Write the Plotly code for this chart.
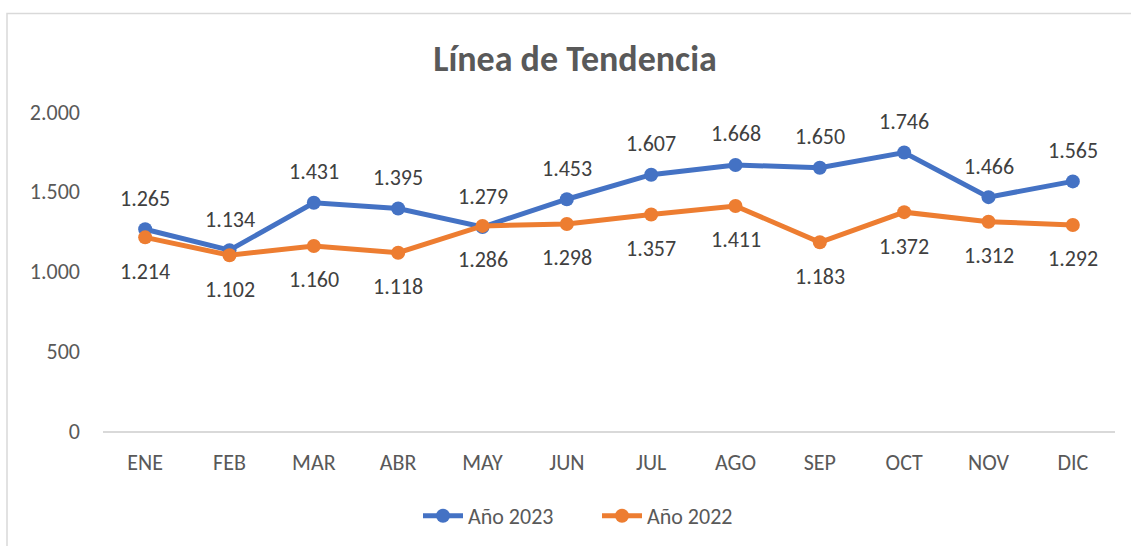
import plotly.graph_objects as go

months = ["ENE", "FEB", "MAR", "ABR", "MAY", "JUN", "JUL", "AGO", "SEP", "OCT", "NOV", "DIC"]
y2023 = [1265, 1134, 1431, 1395, 1279, 1453, 1607, 1668, 1650, 1746, 1466, 1565]
y2022 = [1214, 1102, 1160, 1118, 1286, 1298, 1357, 1411, 1183, 1372, 1312, 1292]
ytick_vals = [0, 500, 1000, 1500, 2000]

W, H = 1131, 546
L, R, T, B = 103, 16, 112, 115
FONT = "Calibri, Carlito, Lato, sans-serif"
BLUE = "#4472C4"
ORANGE = "#ED7D31"
FS = 22

def fmt(v):
    return f"{v:,}".replace(",", ".")

fig = go.Figure()
fig.add_trace(go.Scatter(x=months, y=y2023, name="Año 2023", mode="lines+markers",
                         line=dict(color=BLUE, width=5), marker=dict(size=14, color=BLUE)))
fig.add_trace(go.Scatter(x=months, y=y2022, name="Año 2022", mode="lines+markers",
                         line=dict(color=ORANGE, width=5), marker=dict(size=14, color=ORANGE)))

annotations = []
for m, v in zip(months, y2023):
    annotations.append(dict(x=m, y=v, text=fmt(v), showarrow=False, yshift=31,
                            font=dict(size=FS, color="#404040", family=FONT)))
for m, v in zip(months, y2022):
    annotations.append(dict(x=m, y=v, text=fmt(v), showarrow=False, yshift=-34,
                            font=dict(size=FS, color="#404040", family=FONT)))

pw = W - L - R
ph = H - T - B
def px_x(p):
    return (p - L) / pw
def px_y(p):
    return (H - B - p) / ph

fig.update_layout(
    width=W, height=H,
    margin=dict(l=L, r=R, t=T, b=B, autoexpand=False),
    paper_bgcolor="white", plot_bgcolor="white",
    font=dict(family=FONT, color="#595959", size=FS),
    title=dict(text="<b>Línea de Tendencia</b>", x=575 / W, xref="container", xanchor="center",
               y=1 - 58 / H, yref="container", yanchor="middle",
               font=dict(size=36, color="#595959", family=FONT)),
    showlegend=True,
    legend=dict(orientation="h", x=px_x(597), xanchor="center", y=px_y(516), yanchor="middle",
                font=dict(size=FS, color="#595959", family=FONT), itemwidth=40,
                entrywidth=124, entrywidthmode="pixels"),
    annotations=annotations,
    shapes=[dict(type="rect", xref="paper", yref="paper",
                 x0=px_x(7), x1=px_x(W + 20), y0=px_y(H + 20), y1=px_y(13.5),
                 line=dict(color="#D9D9D9", width=1.5), fillcolor="rgba(0,0,0,0)", layer="below")],
)
fig.update_xaxes(type="category", range=[-0.5, 11.5], showgrid=False, showline=True,
                 linecolor="#D9D9D9", linewidth=2, ticks="", ticklabelstandoff=11,
                 tickfont=dict(size=FS, color="#595959", family=FONT), zeroline=False)
fig.update_yaxes(range=[0, 2000], tickvals=ytick_vals, ticktext=[fmt(v) for v in ytick_vals],
                 showgrid=False, showline=False, zeroline=False, ticks="", ticklabelstandoff=22,
                 tickfont=dict(size=FS, color="#595959", family=FONT))

fig.write_html("out.html", config={"displayModeBar": False},
               post_script="document.body.style.margin='0px';")
